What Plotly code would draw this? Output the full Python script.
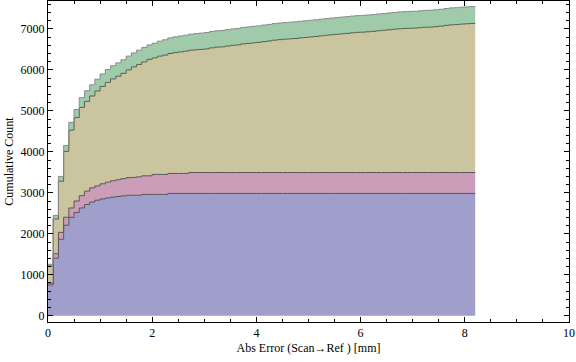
import numpy as np
import plotly.graph_objects as go

# Stacked cumulative histogram, bin width 0.1 mm, bins starting at 0 mm (82 bins -> 0 .. 8.2)
bin_width = 0.1
n_bins = 82
bin_edges = np.round(np.arange(n_bins + 1) * bin_width, 2)

# cumulative counts per series (each series' own cumulative count)
series_blue = [750, 1405, 1866, 2208, 2400, 2520, 2630, 2715, 2775, 2820,
               2850, 2875, 2895, 2910, 2925, 2940, 2940, 2940, 2961, 2961,
               2961, 2961, 2961, 2985, 2985, 2985, 2985, 2985, 2985, 2985,
               2985, 2985, 2985, 2985, 2985, 2985, 2985, 2985, 2985, 2985,
               2985, 2985, 2985, 2985, 2985, 2985, 2985, 2985, 2985, 2985,
               2985, 2985, 2985, 2985, 2985, 2985, 2985, 2985, 2985, 2985,
               2985, 2985, 2985, 2985, 2985, 2985, 2985, 2985, 2985, 2985,
               2985, 2985, 2985, 2985, 2985, 2985, 2985, 2985, 2985, 2985,
               2985, 2985]
series_pink = [42, 110, 169, 197, 230, 280, 300, 325, 345, 350,
               370, 385, 400, 410, 420, 430, 436, 450, 454, 454,
               488, 488, 488, 488, 488, 488, 488, 510, 510, 510,
               510, 510, 510, 510, 510, 510, 510, 510, 510, 510,
               510, 510, 510, 510, 510, 510, 510, 510, 510, 510,
               510, 510, 510, 510, 510, 510, 510, 510, 510, 510,
               510, 510, 510, 510, 510, 510, 510, 510, 510, 510,
               510, 510, 510, 510, 510, 510, 510, 510, 510, 510,
               510, 510]
series_khaki = [423, 845, 1247, 1605, 1899, 2035, 2153, 2190, 2242, 2314,
                2375, 2435, 2485, 2525, 2570, 2630, 2697, 2742, 2780, 2839,
                2844, 2885, 2910, 2927, 2947, 2966, 2983, 2985, 2995, 3005,
                3017, 3042, 3060, 3066, 3085, 3102, 3115, 3139, 3150, 3164,
                3175, 3195, 3210, 3229, 3242, 3254, 3262, 3270, 3285, 3295,
                3308, 3320, 3335, 3350, 3361, 3371, 3385, 3395, 3410, 3420,
                3425, 3434, 3445, 3459, 3470, 3483, 3495, 3507, 3515, 3520,
                3525, 3535, 3545, 3549, 3560, 3573, 3590, 3605, 3610, 3622,
                3630, 3637]
series_green = [42, 90, 118, 146, 191, 199, 239, 260, 273, 289,
                305, 315, 320, 325, 330, 335, 340, 348, 350, 354,
                357, 366, 375, 380, 385, 388, 390, 392, 394, 396,
                398, 398, 399, 400, 400, 401, 401, 402, 402, 403,
                403, 404, 404, 404, 405, 405, 405, 406, 406, 406,
                406, 407, 407, 407, 407, 408, 408, 408, 408, 408,
                409, 409, 409, 409, 409, 410, 410, 410, 410, 410,
                410, 411, 411, 411, 411, 411, 411, 412, 412, 412,
                412, 412]

x_ticks = [0, 2, 4, 6, 8, 10]
y_ticks = [0, 1000, 2000, 3000, 4000, 5000, 6000, 7000]

fills = ["#a09fcc", "#cb9db8", "#cbc59f", "#9fcbaa"]
edges = ["#555555", "#555555", "#556055", "#8a8a8a"]

fig = go.Figure()
stack = np.zeros(n_bins)
for i, s in enumerate([series_blue, series_pink, series_khaki, series_green]):
    stack = stack + np.array(s, dtype=float)
    yy = list(stack) + [stack[-1]]
    fig.add_trace(go.Scatter(
        x=bin_edges, y=yy, mode="lines",
        line=dict(shape="hv", color=edges[i], width=1),
        fill="tozeroy" if i == 0 else "tonexty",
        fillcolor=fills[i], showlegend=False, hoverinfo="skip"))

font = dict(family="Liberation Serif, Times New Roman, serif", size=12, color="black")
fig.update_layout(
    width=576, height=362,
    margin=dict(l=48, r=7, t=1, b=40),
    paper_bgcolor="white", plot_bgcolor="white",
    font=font, showlegend=False,
    xaxis=dict(range=[0, 10], tickvals=x_ticks, ticks="inside", ticklen=5,
               tickcolor="black", showline=True, linecolor="black", linewidth=1,
               mirror="ticks", showgrid=False, zeroline=False, automargin=False,
               minor=dict(ticks="inside", dtick=0.5, ticklen=3, tickcolor="black", showgrid=False),
               title=dict(text="Abs Error (Scan\u2192Ref ) [mm]", font=font, standoff=4),
               tickfont=font, ticklabelstandoff=0),
    yaxis=dict(range=[-152, 7680], tickvals=y_ticks, ticks="inside", ticklen=5,
               tickcolor="black", showline=True, linecolor="black", linewidth=1,
               mirror="ticks", showgrid=False, zeroline=False, automargin=False,
               minor=dict(ticks="inside", dtick=200, ticklen=3, tickcolor="black", showgrid=False),
               title=dict(text="Cumulative Count", font=font, standoff=4),
               tickfont=font, ticklabelstandoff=0),
)
fig.write_html("out.html", config={"displayModeBar": False},
               post_script="document.body.style.margin='0';document.body.style.overflow='hidden';")
